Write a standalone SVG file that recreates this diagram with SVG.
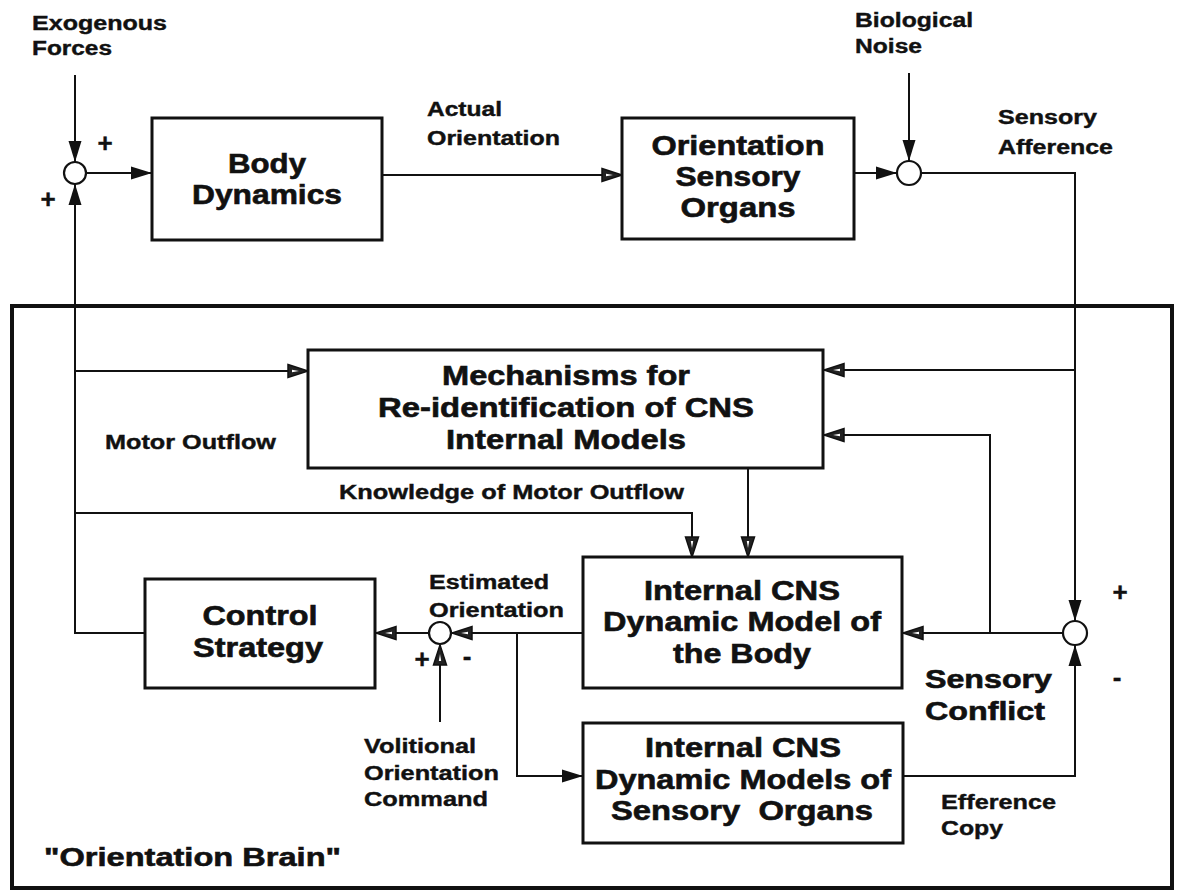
<svg xmlns="http://www.w3.org/2000/svg" width="1178" height="893" viewBox="0 0 1178 893">
<style>
.box{fill:#fff;stroke:#111;stroke-width:3}
.sum{fill:#fff;stroke:#111;stroke-width:2.2}
.ln{fill:none;stroke:#111;stroke-width:2}
.fa{marker-end:url(#af)}
.oa{marker-end:url(#ao)}
text{font-family:"Liberation Sans",Arial,sans-serif;font-weight:bold;fill:#111;stroke:#111;stroke-width:0.4}
.big{font-size:27px;text-anchor:middle;stroke-width:0.6}
.mid{font-size:25px;stroke-width:0.6}
.lbl{font-size:20px}
.sign{font-size:26px;text-anchor:middle}
</style>
<defs>
<marker id="af" markerUnits="userSpaceOnUse" markerWidth="24" markerHeight="16" refX="21" refY="8" orient="auto">
<path d="M0,1.5 L21,8 L0,14.5 z" fill="#111"/>
</marker>
<marker id="ao" markerUnits="userSpaceOnUse" markerWidth="24" markerHeight="16" refX="21" refY="8" orient="auto">
<path d="M1,1.5 L21,8 L1,14.5 z" fill="#222" stroke="#111" stroke-width="1.5"/>
<path d="M5,6.8 L12,8 L5,9.2 z" fill="#fff"/>
</marker>
</defs>
<rect width="1178" height="893" fill="#fff"/>

<g id="orientation-brain">
<rect x="12" y="306" width="1160" height="582" fill="none" stroke="#111" stroke-width="4"/>
<text class="mid" x="44" y="866" textLength="297" lengthAdjust="spacingAndGlyphs" style="font-size:26px">"Orientation Brain"</text>
</g>

<g id="connectors">
<path class="ln fa" d="M75,75 V162"/>
<path class="ln fa" d="M86,173 H152"/>
<path class="ln oa" d="M382,175 H622"/>
<path class="ln fa" d="M854,173 H897"/>
<path class="ln fa" d="M909,73 V161"/>
<path class="ln fa" d="M921,173 H1075 V621"/>
<path class="ln oa" d="M1075,370 H824"/>
<path class="ln oa" d="M1063,633 H903"/>
<path class="ln oa" d="M990,633 V435 H824"/>
<path class="ln fa" d="M903,776 H1075 V645"/>
<path class="ln oa" d="M748,468 V557"/>
<path class="ln oa" d="M75,513 H692 V557"/>
<path class="ln oa" d="M75,371 H308"/>
<path class="ln oa" d="M582,633 H452"/>
<path class="ln fa" d="M517,633 V776 H583"/>
<path class="ln oa" d="M428,633 H376"/>
<path class="ln oa" d="M440,722 V645"/>
<path class="ln fa" d="M145,633 H75 V184"/>
</g>

<g id="exogenous-forces">
<text class="lbl" x="32" y="30" textLength="135" lengthAdjust="spacingAndGlyphs">Exogenous</text>
<text class="lbl" x="32" y="55" textLength="80" lengthAdjust="spacingAndGlyphs">Forces</text>
</g>

<g id="sum-body">
<circle class="sum" cx="75" cy="173" r="11"/>
<text class="sign" x="105" y="152">+</text>
<text class="sign" x="48" y="208">+</text>
</g>

<g id="body-dynamics">
<rect class="box" x="152" y="118" width="230" height="122"/>
<text class="big" x="267" y="173" textLength="78" lengthAdjust="spacingAndGlyphs">Body</text>
<text class="big" x="267" y="204" textLength="150" lengthAdjust="spacingAndGlyphs">Dynamics</text>
</g>

<g id="actual-orientation">
<text class="lbl" x="427" y="116" textLength="75" lengthAdjust="spacingAndGlyphs">Actual</text>
<text class="lbl" x="427" y="145" textLength="133" lengthAdjust="spacingAndGlyphs">Orientation</text>
</g>

<g id="orientation-sensory-organs">
<rect class="box" x="622" y="118" width="232" height="121"/>
<text class="big" x="738" y="155" textLength="173" lengthAdjust="spacingAndGlyphs">Orientation</text>
<text class="big" x="738" y="186" textLength="125" lengthAdjust="spacingAndGlyphs">Sensory</text>
<text class="big" x="738" y="217" textLength="115" lengthAdjust="spacingAndGlyphs">Organs</text>
</g>

<g id="biological-noise">
<text class="lbl" x="855" y="27" textLength="118" lengthAdjust="spacingAndGlyphs">Biological</text>
<text class="lbl" x="855" y="53" textLength="67" lengthAdjust="spacingAndGlyphs">Noise</text>
</g>

<g id="sum-noise">
<circle class="sum" cx="909" cy="173" r="12"/>
</g>

<g id="sensory-afference">
<text class="lbl" x="998" y="124" textLength="99" lengthAdjust="spacingAndGlyphs">Sensory</text>
<text class="lbl" x="998" y="154" textLength="115" lengthAdjust="spacingAndGlyphs">Afference</text>
</g>

<g id="mechanisms">
<rect class="box" x="308" y="350" width="515" height="118"/>
<text class="big" x="566" y="385" textLength="248" lengthAdjust="spacingAndGlyphs">Mechanisms for</text>
<text class="big" x="566" y="417" textLength="376" lengthAdjust="spacingAndGlyphs">Re-identification of CNS</text>
<text class="big" x="566" y="449" textLength="240" lengthAdjust="spacingAndGlyphs">Internal Models</text>
</g>

<g id="motor-outflow">
<text class="lbl" x="105" y="449" textLength="171" lengthAdjust="spacingAndGlyphs">Motor Outflow</text>
</g>

<g id="knowledge-motor-outflow">
<text class="lbl" x="339" y="499" textLength="345" lengthAdjust="spacingAndGlyphs">Knowledge of Motor Outflow</text>
</g>

<g id="body-model">
<rect class="box" x="583" y="557" width="319" height="131"/>
<text class="big" x="742" y="600" textLength="196" lengthAdjust="spacingAndGlyphs">Internal CNS</text>
<text class="big" x="742" y="631" textLength="278" lengthAdjust="spacingAndGlyphs">Dynamic Model of</text>
<text class="big" x="742" y="663" textLength="138" lengthAdjust="spacingAndGlyphs">the Body</text>
</g>

<g id="sum-conflict">
<circle class="sum" cx="1075" cy="633" r="12"/>
<text class="sign" x="1120" y="601">+</text>
<text class="sign" x="1117" y="686">-</text>
</g>

<g id="sensory-conflict">
<text class="mid" x="925" y="688" textLength="127" lengthAdjust="spacingAndGlyphs">Sensory</text>
<text class="mid" x="925" y="720" textLength="120" lengthAdjust="spacingAndGlyphs">Conflict</text>
</g>

<g id="sensory-organs-model">
<rect class="box" x="583" y="723" width="320" height="120"/>
<text class="big" x="743" y="757" textLength="196" lengthAdjust="spacingAndGlyphs">Internal CNS</text>
<text class="big" x="743" y="789" textLength="296" lengthAdjust="spacingAndGlyphs">Dynamic Models of</text>
<text class="big" x="742" y="820" textLength="262" lengthAdjust="spacingAndGlyphs" style="white-space:pre">Sensory  Organs</text>
</g>

<g id="efference-copy">
<text class="lbl" x="941" y="809" textLength="115" lengthAdjust="spacingAndGlyphs">Efference</text>
<text class="lbl" x="941" y="835" textLength="62" lengthAdjust="spacingAndGlyphs">Copy</text>
</g>

<g id="sum-estimated">
<circle class="sum" cx="440" cy="633" r="11"/>
<text class="sign" x="422" y="668">+</text>
<text class="sign" x="467" y="665">-</text>
</g>

<g id="estimated-orientation">
<text class="lbl" x="429" y="589" textLength="120" lengthAdjust="spacingAndGlyphs">Estimated</text>
<text class="lbl" x="429" y="617" textLength="135" lengthAdjust="spacingAndGlyphs">Orientation</text>
</g>

<g id="control-strategy">
<rect class="box" x="145" y="579" width="230" height="109"/>
<text class="big" x="260" y="625" textLength="115" lengthAdjust="spacingAndGlyphs">Control</text>
<text class="big" x="258" y="657" textLength="130" lengthAdjust="spacingAndGlyphs">Strategy</text>
</g>

<g id="volitional-command">
<text class="lbl" x="364" y="753" textLength="112" lengthAdjust="spacingAndGlyphs">Volitional</text>
<text class="lbl" x="364" y="780" textLength="135" lengthAdjust="spacingAndGlyphs">Orientation</text>
<text class="lbl" x="364" y="806" textLength="124" lengthAdjust="spacingAndGlyphs">Command</text>
</g>
</svg>
